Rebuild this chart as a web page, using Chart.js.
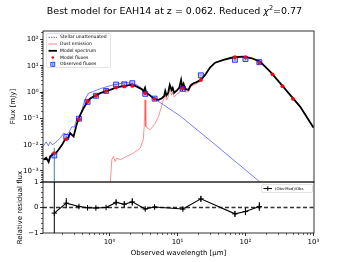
<!DOCTYPE html>
<html>
<head>
<meta charset="utf-8">
<script src="https://cdn.jsdelivr.net/npm/chart.js@4.4.0/dist/chart.umd.min.js"></script>
<style>
html, body { margin: 0; padding: 0; background: #fff; }
#wrap { position: relative; width: 349px; height: 262px; overflow: hidden; }
#wrap canvas { position: absolute; left: 0; top: 0; }
#title { position: absolute; left: 0; top: 4px; width: 349px; text-align: center;
         font: 9.5px "DejaVu Sans", sans-serif; color: #000; white-space: nowrap; }
#title sup { font-size: 6.5px; }
</style>
</head>
<body>
<div id="wrap">
  <canvas id="resid" width="349" height="262"></canvas>
  <canvas id="sed" width="349" height="262"></canvas>
  <div id="title">Best model for EAH14 at z = 0.062. Reduced <i>χ</i><sup>2</sup>=0.77</div>
</div>
<script>
// ---- data ----
// model spectrum [wavelength um, flux mJy]
const modelSpectrum = [
  [0.107,0.0027],[0.117,0.0032],[0.127,0.0022],[0.134,0.0036],[0.150,0.0044],[0.164,0.0049],
  [0.178,0.0064],[0.200,0.0099],[0.223,0.0163],[0.247,0.0183],[0.264,0.0276],[0.296,0.0205],
  [0.332,0.066],[0.371,0.137],[0.415,0.246],[0.465,0.402],[0.52,0.58],[0.582,0.68],[0.73,0.92],
  [0.865,1.07],[1.024,1.22],[1.21,1.46],[1.44,1.63],[1.70,1.74],[2.02,1.9],[2.27,1.81],[2.53,1.63],
  [2.73,1.46],[2.99,1.3],[3.18,1.07],[3.33,1.46],[3.47,0.94],[3.87,0.79],[4.54,0.56],[5.26,0.51],
  [5.9,0.59],[6.37,0.72],[6.6,1.12],[6.89,0.76],[7.3,0.94],[7.7,1.9],[8.2,1.22],[8.5,1.46],
  [8.94,0.94],[9.8,1.17],[10.6,1.46],[11.3,2.94],[11.8,1.46],[12.3,2.07],[13.0,1.33],[14.5,1.22],
  [15.6,1.81],[17.2,2.2],[18.8,2.36],[22.1,2.94],[25.5,4.55],[30.3,8.93],[35.8,13.3],[47.5,16.9],
  [66.6,21.4],[93.5,22.6],[124,19.6],[164,14.6],[231,6.07],[324,2.2],[454,0.79],[637,0.283],[1000,0.045]
];
const dustEmission = [
  [1.03,0.00039],[1.08,0.0027],[1.145,0.0036],[1.21,0.0023],[1.28,0.0031],[1.44,0.0027],[1.8,0.0036],
  [2.25,0.0048],[2.83,0.0074],[3.13,0.0153],[3.24,0.049],[3.33,0.51],[3.42,0.049],[3.97,0.037],
  [4.7,0.066],[5.26,0.118],[6.1,0.44],[6.6,0.79],[6.94,0.51],[7.3,0.66],[7.7,1.46],[8.2,0.79],
  [8.5,1.03],[8.94,0.66],[9.8,0.86],[10.6,0.94],[11.3,2.46],[11.8,1.12],[12.3,1.59],[13.0,1.03],
  [14.5,1.03],[15.6,1.59],[17.2,1.9],[18.8,2.07],[22.1,2.69],[25.5,4.4],[30.3,8.8],[35.8,13.2],
  [47.5,16.8],[66.6,21.3],[93.5,22.5],[124,19.5],[164,14.5],[231,6.05],[324,2.19],[454,0.79],
  [637,0.283],[1000,0.045]
];
const stellarUnatt = [
  [0.107,0.0091],[0.117,0.0129],[0.126,0.0091],[0.134,0.0129],[0.144,0.010],[0.159,0.0118],
  [0.17,0.014],[0.188,0.0178],[0.211,0.0276],[0.231,0.0248],[0.249,0.0276],[0.264,0.037],
  [0.28,0.049],[0.303,0.046],[0.332,0.103],[0.353,0.097],[0.371,0.137],[0.393,0.212],[0.415,0.359],
  [0.439,0.56],[0.491,0.92],[0.557,1.03],[0.653,1.22],[0.755,1.39],[0.916,1.63],[1.06,1.81],
  [1.28,2.01],[1.51,2.2],[1.8,2.32],[2.09,2.16],[2.53,1.9],[2.92,1.46],[3.35,1.05],[4.44,0.59],
  [6.23,0.33],[8.74,0.183],[10.9,0.126],[21.6,0.0296],[37.9,0.0089],[160,0.0004]
];

// model fluxes in the filters
const modelWl   = [0.154, 0.231, 0.355, 0.475, 0.63, 0.89, 1.25, 1.65, 2.16, 3.35, 4.6, 12, 22.1, 70, 100, 160, 250, 350, 500];
const modelFlux = [0.0048, 0.0163, 0.094, 0.44, 0.74, 1.12, 1.5, 1.66, 1.74, 0.92, 0.56, 1.42, 2.94, 21.4, 21.4, 13.3, 4.8, 1.69, 0.56];

// observed fluxes
const obsWl   = [0.154, 0.231, 0.355, 0.475, 0.63, 0.89, 1.25, 1.65, 2.16, 3.35, 4.6, 12, 22.1, 70, 100, 160];
const obsFlux = [0.0039, 0.0196, 0.098, 0.43, 0.73, 1.12, 1.95, 2.0, 2.2, 0.87, 0.57, 1.34, 4.4, 17.1, 18.4, 13.9];
const obsErr  = [0.0037, 0.002, 0.004, 0.01, 0.02, 0.03, 0.1, 0.1, 0.15, 0.02, 0.02, 0.05, 0.2, 1.5, 1.8, 1.8];

// relative residuals (Obs-Mod)/Obs
const residual = [-0.22, 0.17, 0.04, -0.01, -0.02, 0.0, 0.2, 0.13, 0.22, -0.06, 0.02, -0.06, 0.34, -0.25, -0.16, 0.04];
const residErr = [2.5, 0.2, 0.05, 0.03, 0.03, 0.03, 0.12, 0.12, 0.15, 0.05, 0.04, 0.05, 0.12, 0.12, 0.14, 0.17];
const zeroLevel = 0;

// axes
const xMin = 0.105, xMax = 1020;
const yMin = 0.000381, yMax = 214;
const xMajor = [1, 10, 100, 1000];
const yMajor = [0.001, 0.01, 0.1, 1, 10, 100];
const rMajor = [-1, 0, 1];

const FONT = "'DejaVu Sans', sans-serif";

function logMinors(lo, hi) {
  const out = [];
  for (let e = Math.floor(Math.log10(lo)); e <= Math.ceil(Math.log10(hi)); e++) {
    for (let k = 2; k <= 9; k++) {
      const v = k * Math.pow(10, e);
      if (v >= lo && v <= hi) out.push(v);
    }
  }
  return out;
}
const supMap = { '-': '⁻', '0': '⁰', '1': '¹', '2': '²', '3': '³' };
function decLabel(v) {
  const e = Math.round(Math.log10(v));
  return '10' + String(e).split('').map(c => supMap[c]).join('');
}
const pairs = (xs, ys) => xs.map((x, i) => ({ x: x, y: ys[i] }));
const fromList = list => list.map(p => ({ x: p[0], y: p[1] }));

// frame + minor ticks like matplotlib
const mplFrame = {
  id: 'mplFrame',
  afterDraw(chart, args, opts) {
    const { ctx, chartArea: a, scales } = chart;
    ctx.save();
    ctx.strokeStyle = '#000';
    ctx.lineWidth = 0.8;
    ctx.strokeRect(a.left, a.top, a.right - a.left, a.bottom - a.top);
    ctx.lineWidth = 0.6;
    (opts.xMinor || []).forEach(v => {
      const px = Math.round(scales.x.getPixelForValue(v)) + 0.5;
      ctx.beginPath(); ctx.moveTo(px, a.bottom); ctx.lineTo(px, a.bottom + 2); ctx.stroke();
    });
    (opts.yMinor || []).forEach(v => {
      const py = Math.round(scales.y.getPixelForValue(v)) + 0.5;
      ctx.beginPath(); ctx.moveTo(a.left, py); ctx.lineTo(a.left - 2, py); ctx.stroke();
    });
    ctx.restore();
  }
};

// vertical error bars
const errBars = {
  id: 'errBars',
  afterDatasetsDraw(chart, args, opts) {
    const { ctx, chartArea: a, scales } = chart;
    ctx.save();
    ctx.beginPath();
    ctx.rect(a.left, a.top, a.right - a.left, a.bottom - a.top);
    ctx.clip();
    ctx.strokeStyle = opts.color;
    ctx.lineWidth = opts.width;
    opts.xs.forEach((x, i) => {
      const px = scales.x.getPixelForValue(x);
      const lo = opts.ys[i] - opts.err[i];
      const hi = opts.ys[i] + opts.err[i];
      const pLo = (opts.log && lo <= 0) ? a.bottom + 2 : scales.y.getPixelForValue(lo);
      const pHi = scales.y.getPixelForValue(hi);
      ctx.beginPath(); ctx.moveTo(px, pLo); ctx.lineTo(px, pHi); ctx.stroke();
    });
    ctx.restore();
  }
};

// legend box of the SED panel
const sedLegend = {
  id: 'sedLegend',
  afterDraw(chart) {
    const ctx = chart.ctx;
    const rows = [
      { text: 'Stellar unattenuated', kind: 'line', color: 'rgba(0,0,255,0.8)', w: 0.8, dash: [1.5, 1] },
      { text: 'Dust emission', kind: 'line', color: 'rgba(255,70,70,0.75)', w: 0.9, dash: [] },
      { text: 'Model spectrum', kind: 'line', color: '#000', w: 1.8, dash: [] },
      { text: 'Model fluxes', kind: 'dot' },
      { text: 'Observed fluxes', kind: 'square' }
    ];
    ctx.save();
    ctx.fillStyle = 'rgba(255,255,255,0.85)';
    ctx.strokeStyle = '#d0d0d0';
    ctx.lineWidth = 0.6;
    ctx.beginPath();
    ctx.roundRect(46.5, 33.5, 64, 34, 1.5);
    ctx.fill(); ctx.stroke();
    ctx.font = '4.5px ' + FONT;
    ctx.textBaseline = 'middle';
    rows.forEach((r, i) => {
      const y = 37.3 + i * 6.75;
      if (r.kind === 'line') {
        ctx.strokeStyle = r.color; ctx.lineWidth = r.w; ctx.setLineDash(r.dash);
        ctx.beginPath(); ctx.moveTo(48.5, y); ctx.lineTo(57, y); ctx.stroke();
        ctx.setLineDash([]);
      } else if (r.kind === 'dot') {
        ctx.fillStyle = '#ff0000';
        ctx.beginPath(); ctx.arc(52.8, y, 1.3, 0, Math.PI * 2); ctx.fill();
      } else {
        ctx.fillStyle = 'rgba(0,0,255,0.2)'; ctx.strokeStyle = 'rgba(0,0,255,0.85)'; ctx.lineWidth = 0.8;
        ctx.fillRect(50.8, y - 2, 4, 4); ctx.strokeRect(50.8, y - 2, 4, 4);
        ctx.strokeStyle = '#1f77b4';
        ctx.beginPath(); ctx.moveTo(52.8, y - 2.5); ctx.lineTo(52.8, y + 2.5); ctx.stroke();
      }
      ctx.fillStyle = '#000';
      ctx.fillText(r.text, 60, y);
    });
    ctx.restore();
  }
};

const residLegend = {
  id: 'residLegend',
  afterDraw(chart) {
    const ctx = chart.ctx;
    ctx.save();
    ctx.fillStyle = 'rgba(255,255,255,0.85)';
    ctx.strokeStyle = '#d0d0d0';
    ctx.lineWidth = 0.6;
    ctx.beginPath();
    ctx.roundRect(261.5, 184.5, 51, 8, 1.5);
    ctx.fill(); ctx.stroke();
    ctx.strokeStyle = '#000'; ctx.lineWidth = 1;
    ctx.beginPath(); ctx.moveTo(263.5, 188.5); ctx.lineTo(272, 188.5); ctx.stroke();
    ctx.beginPath(); ctx.moveTo(267.8, 186.3); ctx.lineTo(267.8, 190.7); ctx.stroke();
    ctx.fillStyle = '#000';
    ctx.font = '3.8px ' + FONT;
    ctx.textBaseline = 'middle';
    ctx.fillText('(Obs-Mod)/Obs', 275, 188.7);
    ctx.restore();
  }
};

// ---- SED panel ----
new Chart(document.getElementById('sed'), {
  type: 'scatter',
  data: {
    datasets: [
      { label: 'Stellar unattenuated', data: fromList(stellarUnatt), showLine: true,
        borderColor: 'rgba(0,0,255,0.65)', borderWidth: 0.8, pointRadius: 0, order: 4 },
      { label: 'Dust emission', data: fromList(dustEmission), showLine: true,
        borderColor: 'rgba(255,60,60,0.7)', borderWidth: 0.8, pointRadius: 0, order: 3 },
      { label: 'Model spectrum', data: fromList(modelSpectrum), showLine: true,
        borderColor: '#000', borderWidth: 1.8, pointRadius: 0, order: 2 },
      { label: 'Model fluxes', data: pairs(modelWl, modelFlux), pointRadius: 1.9,
        backgroundColor: '#ff0000', borderWidth: 0, order: 0 },
      { label: 'Observed fluxes', data: pairs(obsWl, obsFlux), pointStyle: 'rect', pointRadius: 3.5,
        backgroundColor: 'rgba(0,0,255,0.2)', borderColor: 'rgba(0,0,255,0.85)', borderWidth: 0.9, order: 1 }
    ]
  },
  options: {
    responsive: false,
    animation: false,
    layout: { padding: { left: 0, top: 31, right: 35, bottom: 80 } },
    plugins: {
      legend: { display: false },
      tooltip: { enabled: false },
      mplFrame: { xMinor: [], yMinor: logMinors(yMin, yMax) },
      errBars: { xs: obsWl, ys: obsFlux, err: obsErr, color: '#1f77b4', width: 0.9, log: true }
    },
    scales: {
      x: {
        type: 'logarithmic', min: xMin, max: xMax,
        ticks: { display: false },
        grid: { display: false },
        border: { display: false },
        afterFit(s) { s.height = 0; }
      },
      y: {
        type: 'logarithmic', min: yMin, max: yMax,
        afterBuildTicks(s) { s.ticks = yMajor.map(v => ({ value: v })); },
        afterFit(s) { s.width = 43; },
        ticks: { autoSkip: false, color: '#000', padding: 1.5, font: { size: 7, family: FONT },
                 callback: v => decLabel(v) },
        grid: { display: true, drawOnChartArea: false, drawTicks: true, tickLength: 3, color: '#000', lineWidth: 0.8 },
        border: { display: false },
        title: { display: true, text: 'Flux [mJy]', color: '#000', font: { size: 7, family: FONT },
                 padding: { top: 9, bottom: 0 } }
      }
    }
  },
  plugins: [errBars, mplFrame, sedLegend]
});

// ---- residual panel ----
new Chart(document.getElementById('resid'), {
  type: 'scatter',
  data: {
    datasets: [
      { label: 'zero', data: [{ x: xMin, y: zeroLevel }, { x: xMax, y: zeroLevel }], showLine: true,
        borderColor: '#333', borderWidth: 1.3, borderDash: [4, 2.5], pointRadius: 0, order: 2 },
      { label: '(Obs-Mod)/Obs', data: pairs(obsWl, residual), showLine: true,
        borderColor: '#000', borderWidth: 1.1, pointStyle: 'cross', pointRadius: 2.8,
        pointBorderColor: '#000', pointBorderWidth: 1, order: 1 }
    ]
  },
  options: {
    responsive: false,
    animation: false,
    layout: { padding: { left: 0, top: 182, right: 35, bottom: 0 } },
    plugins: {
      legend: { display: false },
      tooltip: { enabled: false },
      mplFrame: { xMinor: logMinors(xMin, xMax), yMinor: [-0.8, -0.6, -0.4, -0.2, 0.2, 0.4, 0.6, 0.8] },
      errBars: { xs: obsWl, ys: residual, err: residErr, color: '#000', width: 1, log: false }
    },
    scales: {
      x: {
        type: 'logarithmic', min: xMin, max: xMax,
        afterBuildTicks(s) { s.ticks = xMajor.map(v => ({ value: v })); },
        afterFit(s) { s.height = 29; },
        ticks: { autoSkip: false, maxRotation: 0, color: '#000', padding: 2, font: { size: 7, family: FONT },
                 callback: v => decLabel(v) },
        grid: { display: true, drawOnChartArea: false, drawTicks: true, tickLength: 3, color: '#000', lineWidth: 0.8 },
        border: { display: false },
        title: { display: true, text: 'Observed wavelength [μm]', color: '#000', font: { size: 7, family: FONT },
                 padding: { top: 0, bottom: 4.5 } }
      },
      y: {
        type: 'linear', min: -1, max: 1,
        afterBuildTicks(s) { s.ticks = rMajor.map(v => ({ value: v })); },
        afterFit(s) { s.width = 43; },
        ticks: { autoSkip: false, color: '#000', padding: 1.5, font: { size: 7, family: FONT },
                 callback: v => (v < 0 ? '−' + Math.abs(v) : String(v)) },
        grid: { display: true, drawOnChartArea: false, drawTicks: true, tickLength: 3, color: '#000', lineWidth: 0.8 },
        border: { display: false },
        title: { display: true, text: 'Relative residual flux', color: '#000', font: { size: 7, family: FONT },
                 padding: { top: 15.5, bottom: 0 } }
      }
    }
  },
  plugins: [errBars, mplFrame, residLegend]
});
</script>
</body>
</html>
